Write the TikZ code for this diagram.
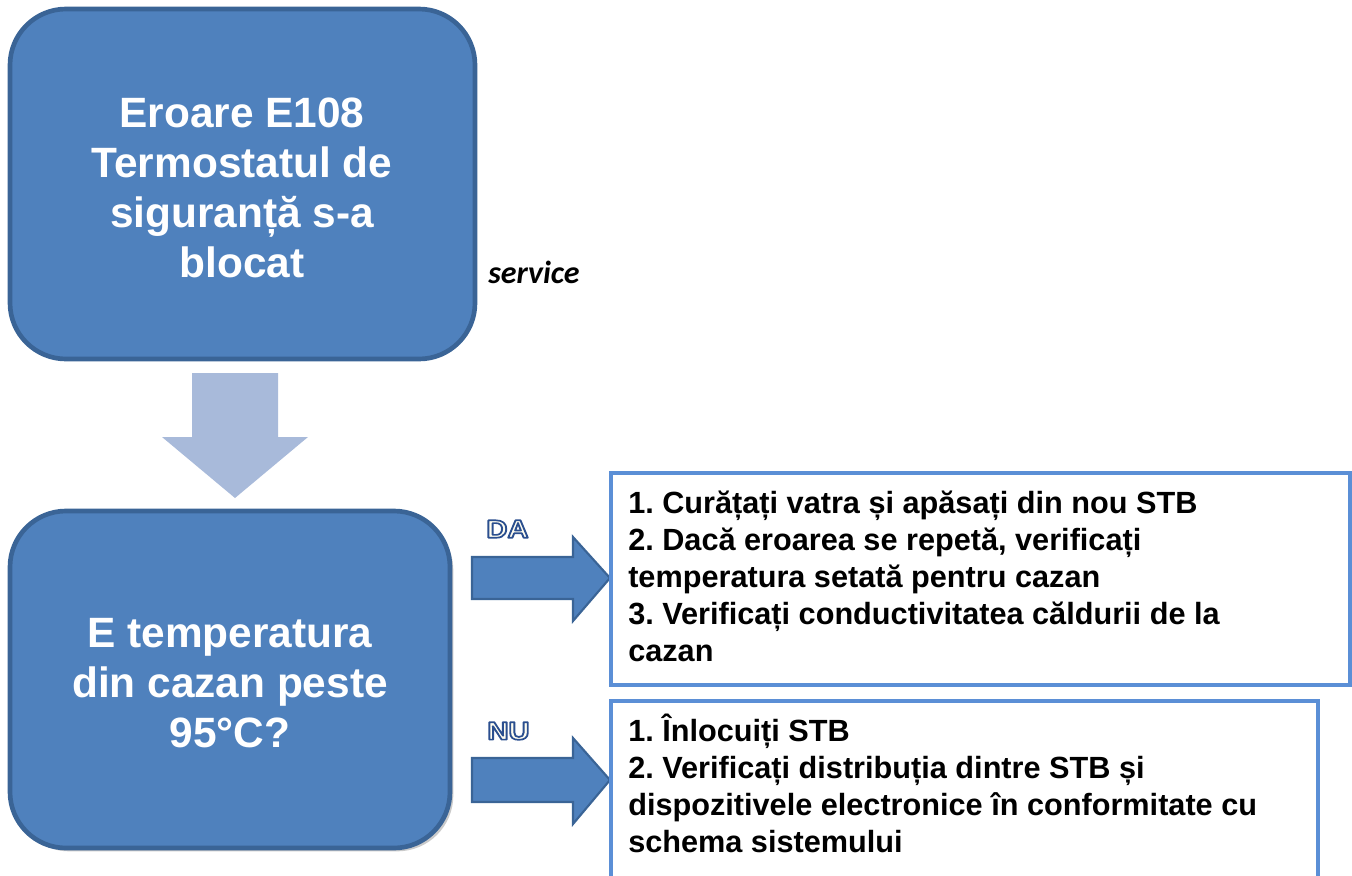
\documentclass[tikz,border=0pt]{standalone}
\usepackage{fontspec}
\setmainfont{Liberation Sans}
\newfontfamily\carlito{Carlito}
\usetikzlibrary{shadows}
\frenchspacing
\definecolor{boxfill}{HTML}{4F81BD}
\definecolor{boxline}{HTML}{3A6496}
\definecolor{downfill}{HTML}{A8BADA}
\definecolor{rightline}{HTML}{5B8FD6}
\definecolor{lblfill}{HTML}{FFFDF0}
\newcommand{\outlined}[1]{{\color{lblfill}\special{pdf:literal direct 0.17 0.31 0.56 RG 1.25 w 1 j 2 Tr}#1\special{pdf:literal direct 0 Tr}}}
\tikzset{
  bigbox/.style={draw=boxline, line width=3.5pt, fill=boxfill, rounded corners=42pt},
  bigtext/.style={anchor=base, text=white, inner sep=0pt, font=\fontsize{31.8}{37.5}\selectfont\bfseries},
  infobox/.style={draw=rightline, line width=2.4pt},
  infotext/.style={anchor=base west, inner sep=0pt, font=\fontsize{23}{27.75}\selectfont\bfseries},
  sidearrow/.style={draw=boxline, line width=1.6pt, fill=boxfill, line join=miter},
  downarrow/.style={fill=downfill},
  lbl/.style={inner sep=0pt, xscale=1.15, font=\fontsize{19}{22}\selectfont\bfseries},
}
\begin{document}
\begin{tikzpicture}[x=0.75pt,y=-0.75pt]
\useasboundingbox (0,0) rectangle (1352,875);
\clip (0,0) rectangle (1352,875);
% top box
\draw[bigbox] (10,9) rectangle (475,359);
\node[bigtext] (t1) at (242,127) {Eroare E108};
\node[bigtext] (t2) at (242,177) {Termostatul de};
\node[bigtext] (t3) at (242,227) {siguranță s-a};
\node[bigtext] (t4) at (242,277) {blocat};
% service
\node[anchor=base west, inner sep=0pt, font=\carlito\fontsize{24}{28}\selectfont\bfseries\itshape] (svc) at (488,283) {service};
% down arrow
\fill[downarrow] (192,373) -- (278,373) -- (278,437) -- (308,437) -- (235,498) -- (162,437) -- (192,437) -- cycle;
% bottom box
\draw[bigbox, drop shadow={shadow xshift=2.5pt, shadow yshift=-2.5pt, opacity=0.35, fill=black!60}] (10,511) rectangle (450,848);
\node[bigtext] (b1) at (230,647) {E temperatura};
\node[bigtext] (b2) at (230,697) {din cazan peste};
\node[bigtext] (b3) at (230,747) {95°C?};
% side arrows
\draw[sidearrow] (472,557) -- (573,557) -- (573,537) -- (610,578) -- (573,621) -- (573,599) -- (472,599) -- cycle;
\draw[sidearrow] (472,758) -- (573,758) -- (573,738) -- (610,780) -- (573,824) -- (573,802) -- (472,802) -- cycle;
\node[lbl] (da) at (507.5,529) {\outlined{DA}};
\node[lbl] (nu) at (508.5,731) {\outlined{NU}};
% info box 1
\draw[infobox] (611,473) rectangle (1350,685);
\node[infotext] (r1) at (628,513) {1. Curățați vatra și apăsați din nou STB};
\node[infotext] (r2) at (628,550) {2. Dacă eroarea se repetă, verificați};
\node[infotext] (r3) at (628,587) {temperatura setată pentru cazan};
\node[infotext] (r4) at (628,624) {3. Verificați conductivitatea căldurii de la};
\node[infotext] (r5) at (628,661) {cazan};
% info box 2
\draw[infobox] (611,894) -- (611,701) -- (1318,701) -- (1318,894);
\node[infotext] (s1) at (628,741) {1. Înlocuiți STB};
\node[infotext] (s2) at (628,778) {2. Verificați distribuția dintre STB și};
\node[infotext] (s3) at (628,815) {dispozitivele electronice în conformitate cu};
\node[infotext] (s4) at (628,852) {schema sistemului};
\end{tikzpicture}
\end{document}
